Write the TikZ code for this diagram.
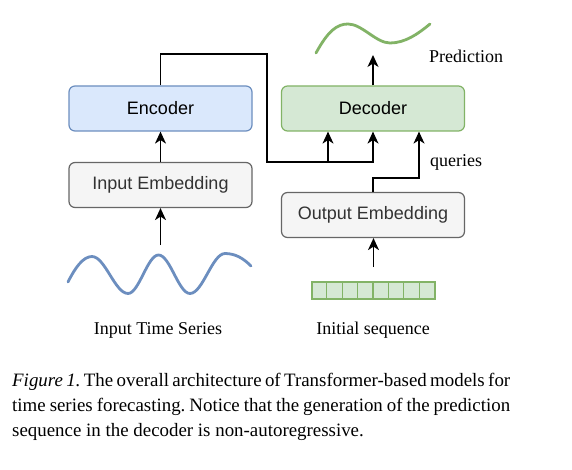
\documentclass[tikz,border=0pt]{standalone}
\usepackage{fontspec}
\setmainfont{Liberation Serif}
\newfontfamily\boxfont{Liberation Sans}
\usetikzlibrary{arrows.meta,calc}
\definecolor{encfill}{HTML}{DAE8FC}
\definecolor{encdraw}{HTML}{6C8EBF}
\definecolor{decfill}{HTML}{D5E8D4}
\definecolor{decdraw}{HTML}{82B366}
\definecolor{embfill}{HTML}{F5F5F5}
\definecolor{embdraw}{HTML}{666666}
\definecolor{embtext}{HTML}{333333}
\begin{document}
\begin{tikzpicture}[x=1pt,y=-1pt,
  blockbox/.style={draw, rounded corners=6pt, line width=1.2pt, minimum width=183pt, minimum height=45pt, inner sep=0pt, font=\boxfont\fontsize{18}{20}\selectfont},
  encstyle/.style={blockbox, fill=encfill, draw=encdraw},
  decstyle/.style={blockbox, fill=decfill, draw=decdraw},
  embstyle/.style={blockbox, fill=embfill, draw=embdraw, text=embtext},
  conn/.style={line width=1.4pt, -{Stealth[length=12pt,width=11pt,inset=3.5pt]}},
  lbl/.style={font=\fontsize{18}{20}\selectfont, inner sep=0pt},
  wave/.style={line width=2.8pt, line cap=round}
]
\useasboundingbox[fill=white] (0,0) rectangle (572,470);

% boxes
\node[encstyle] (encoder) at (160.5,108.5) {Encoder};
\node[embstyle] (inemb) at (160.5,185) {Input Embedding};
\node[decstyle] (decoder) at (373,108.5) {Decoder};
\node[embstyle] (outemb) at (373,215) {Output Embedding};

% initial sequence
\node[draw=decdraw, fill=decfill, line width=1.1pt, minimum width=123pt, minimum height=17pt, inner sep=0pt] (seq) at (373.5,290.5) {};
\foreach \i in {1,...,7} {
  \draw[decdraw, line width=1.1pt] ($(seq.north west)+(\i*15.375,0)$) -- ($(seq.south west)+(\i*15.375,0)$);
}

% waves
\draw[wave, encdraw] (68,282) .. controls (75,268) and (83,256.5) .. (92,256.5)
  .. controls (105,256.5) and (115,293.5) .. (128,293.5)
  .. controls (139,293.5) and (147.5,255) .. (158.5,255)
  .. controls (170,255) and (178.5,293.5) .. (190,293.5)
  .. controls (202.7,293.5) and (212.3,253.5) .. (225,253.5)
  .. controls (236,253.5) and (244,259) .. (251,266);
\draw[wave, decdraw] (316,53) .. controls (328,31) and (337,24) .. (348,24)
  .. controls (362,24) and (376,43) .. (390,43)
  .. controls (405,43) and (418,34) .. (430,24);

% coordinates
\coordinate (win) at (160.5,245);
\coordinate (j1) at (267,54);
\coordinate (j2) at (373,162);
\coordinate (j3) at (328,162);
\coordinate (q) at (419,178);
\coordinate (pred) at (373,55);
\coordinate (sin) at (373.5,267);

% connectors
\draw[conn] (win) -- (inemb.south);
\draw[conn] (inemb.north) -- (encoder.south);
\draw[conn] (encoder.north) |- (j1) |- (j2) -- (decoder.south);
\draw[conn] (j3) -- (j3 |- decoder.south);
\draw[conn] (outemb.north) |- (q) -- (q |- decoder.south);
\draw[conn] (decoder.north) -- (pred);
\draw[conn] (sin) -- (seq.north |- outemb.south);

% labels
\node[lbl, anchor=west] (qlbl) at (430,162) {queries};
\node[lbl, anchor=west] (plbl) at (429,56) {Prediction};
\node[lbl] (inlbl) at (158,330) {Input Time Series};
\node[lbl] (seqlbl) at (373,330) {Initial sequence};

% caption
\node[anchor=north west, inner sep=0pt, align=left, font=\frenchspacing\fontsize{18.9}{25}\selectfont] (cap) at (12,373) {%
\makebox[498pt][s]{\textit{Figure 1.} The overall architecture of Transformer-based models for}\\
\makebox[498pt][s]{time series forecasting. Notice that the generation of the prediction}\\
sequence in the decoder is non-autoregressive.};
\end{tikzpicture}
\end{document}
